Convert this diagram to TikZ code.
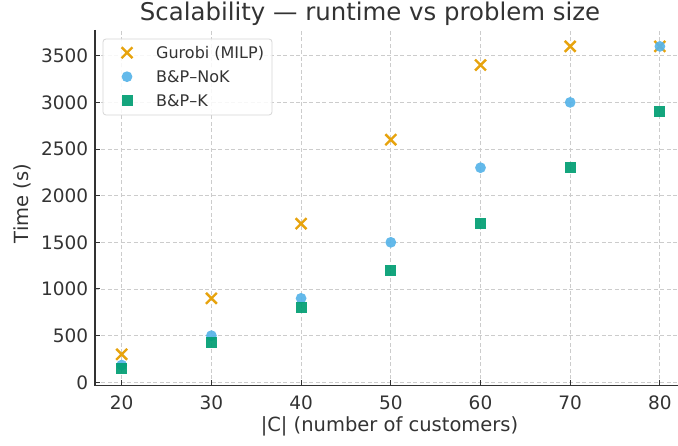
\documentclass[tikz,border=0pt]{standalone}
\usepackage{fontspec}
\setmainfont{DejaVu Sans}
\usetikzlibrary{shapes.misc}
\definecolor{txt}{HTML}{333333}
\definecolor{gridc}{HTML}{CCCCCC}
\definecolor{gurc}{HTML}{E69F00}
\definecolor{nokc}{HTML}{56B4E9}
\definecolor{kc}{HTML}{009E73}
\tikzset{
  gridline/.style={draw=gridc, line width=0.9pt, dash pattern=on 4pt off 2.5pt},
  spine/.style={draw=txt, line width=1.3pt},
  tickmark/.style={draw=txt, line width=1pt},
  ticklab/.style={text=txt, font=\fontsize{18.5}{22}\selectfont, inner sep=0pt},
  axlab/.style={text=txt, font=\fontsize{19.5}{23}\selectfont, inner sep=0pt},
  gur/.style={cross out, draw=gurc, line width=2.4pt, minimum size=8.5pt, inner sep=0pt, opacity=0.95},
  nok/.style={circle, fill=nokc, minimum size=10.8pt, inner sep=0pt, fill opacity=0.92},
  kk/.style={rectangle, fill=kc, minimum size=11pt, inner sep=0pt, fill opacity=0.92},
  legtext/.style={text=txt, font=\fontsize{16}{19}\selectfont, anchor=base west, inner sep=0pt}
}
\begin{document}
\begin{tikzpicture}[x=1pt,y=1pt]
\useasboundingbox[fill=white] (0,0) rectangle (678,445);
% data frame: x = customers-20, y = seconds
\begin{scope}[shift={(121.7,62.7)}, x=8.97pt, y=0.09331pt]
  % grid
  \foreach \c in {0,10,...,60} \draw[gridline] (\c,-36) -- (\c,3773);
  \foreach \t in {0,500,...,3500} \draw[gridline] (-3,\t) -- (62.1,\t);
  % ticks
  \foreach \c/\l in {0/20,10/30,20/40,30/50,40/60,50/70,60/80} {
    \draw[tickmark] (\c,-33) -- ++(0,5pt);
    \node[ticklab, anchor=base] (xt\l) at ([yshift=-23.7pt]\c,-33) {\l};
  }
  \foreach \t in {0,500,...,3500} {
    \draw[tickmark] (-3,\t) -- ++(5pt,0);
    \node[ticklab, anchor=east] (yt\t) at ([xshift=-6.5pt]-3,\t) {\t};
  }
  % Gurobi
  \foreach \c/\t in {0/300,10/900,20/1700,30/2600,40/3400,50/3600,60/3600}
    \node[gur] (g\c) at (\c,\t) {};
  % NoK
  \foreach \c/\t in {0/185,10/500,20/900,30/1500,40/2300,50/3000,60/3600}
    \node[nok] (n\c) at (\c,\t) {};
  % K
  \foreach \c/\t in {0/145,10/425,20/800,30/1200,40/1700,50/2300,60/2900}
    \node[kk] (k\c) at (\c,\t) {};
\end{scope}
% spines
\draw[spine] (95,415) -- (95,59.6) -- (678,59.6);
% legend
\draw[draw=gridc!80, fill=white, fill opacity=0.85, rounded corners=3pt, line width=0.8pt] (103,406) rectangle (272,330);
\node[gur] (lg) at (127,392.3) {};
\node[nok] (ln) at (127,368.3) {};
\node[kk] (lk) at (127,344.3) {};
\node[legtext] (lgt) at (156,386.5) {Gurobi (MILP)};
\node[legtext] (lnt) at (156,362.5) {B\&P–NoK};
\node[legtext] (lkt) at (156,338.5) {B\&P–K};
% labels
\node[axlab] (xlab) at (389.5,19) {|C| (number of customers)};
\node[axlab, rotate=90] (ylab) at (22,241.5) {Time (s)};
\node[text=txt, font=\fontsize{24.4}{29}\selectfont, inner sep=0pt] (title) at (370,431) {Scalability — runtime vs problem size};
\end{tikzpicture}
\end{document}
